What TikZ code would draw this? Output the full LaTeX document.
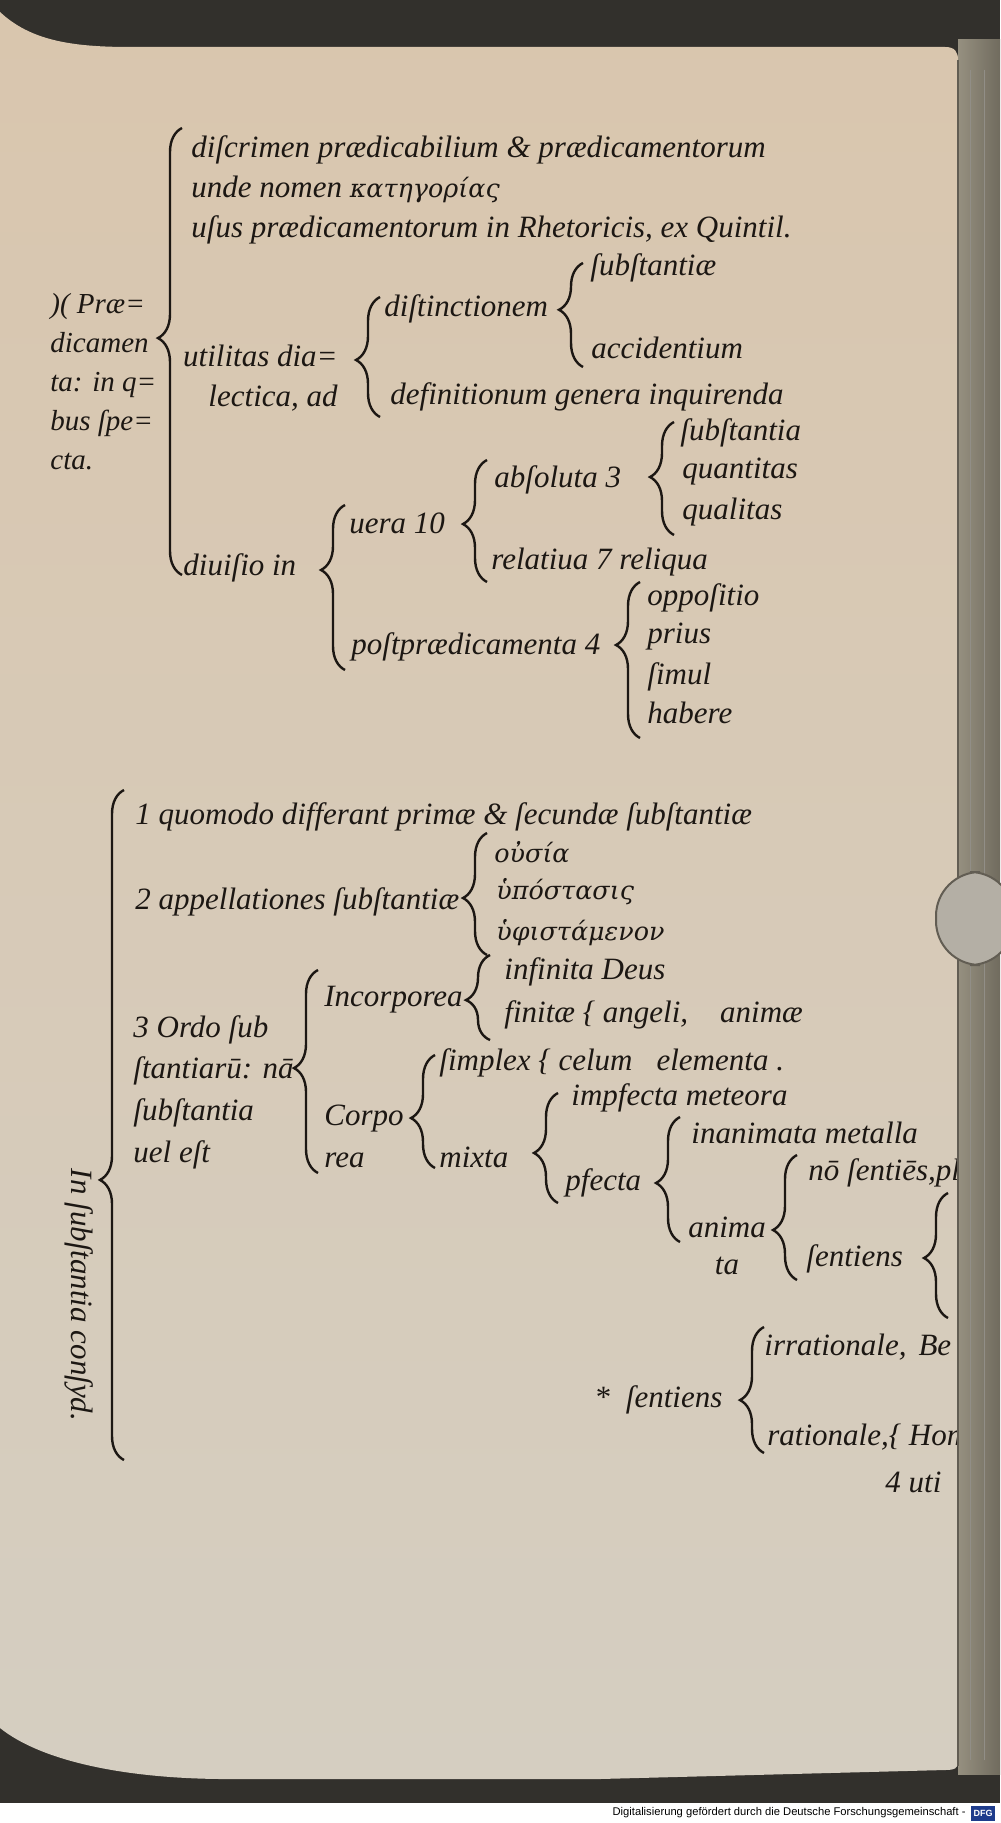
\documentclass[tikz,border=0pt]{standalone}
\usepackage{fontspec}
\setmainfont{Liberation Serif}
\newfontfamily\greekfont[Scale=0.82]{DejaVu Serif}
\newfontfamily\capfont{Liberation Sans}
\usetikzlibrary{decorations.pathreplacing}
\definecolor{ink}{RGB}{28,23,19}
\definecolor{frame}{RGB}{50,48,44}
\definecolor{papertop}{RGB}{217,198,174}
\definecolor{paperbot}{RGB}{213,206,193}
\definecolor{edgeA}{RGB}{150,144,128}
\definecolor{edgeB}{RGB}{112,107,94}
\definecolor{tabfill}{RGB}{180,175,165}
\definecolor{tabline}{RGB}{98,93,83}
\definecolor{dfgblue}{RGB}{30,60,140}

\begin{document}
\begin{tikzpicture}[x=0.5pt,y=-0.5pt]
\tikzset{txt/.style={anchor=west,inner sep=0pt,text=ink,font=\fontsize{15.5}{20}\selectfont\itshape}}
\tikzset{brc/.style={draw=ink,line width=1.2pt,decorate,decoration={brace,amplitude=12pt,aspect=#1}}}
\useasboundingbox (0,0) rectangle (1000,1823);
% scan border and page
\fill[frame] (0,0) rectangle (1000,1823);
\fill[white] (0,1803) rectangle (1000,1823);
\shade[top color=papertop,bottom color=paperbot] (0,12) .. controls (30,40) and (70,47) .. (130,47) -- (945,47)
  .. controls (955,47) and (958,52) .. (958,60) -- (958,1762) .. controls (958,1768) and (955,1770) .. (945,1770)
  -- (600,1779) -- (220,1779) .. controls (120,1778) and (40,1760) .. (0,1728) -- cycle;

% Praedicamenta
\node[txt,font=\fontsize{14.5}{19.5}\selectfont\itshape,align=left] (praed) at (50,382) {)( Præ=\\dicamen\\ta: in q=\\bus ſpe=\\cta.};
\node[txt] (discr) at (191,150) {diſcrimen prædicabilium \& prædicamentorum};
\node[txt] (unde) at (191,189) {unde nomen {\greekfont κατηγορίας}};
\node[txt] (usus) at (191,230) {uſus prædicamentorum in Rhetoricis, ex Quintil.};
\node[txt,anchor=east,align=right] (util) at (338,378) {utilitas dia=\\lectica, ad};
\node[txt] (dist) at (384,309) {diſtinctionem};
\node[txt] (subst) at (590,268) {ſubſtantiæ};
\node[txt] (accid) at (591,348) {accidentium};
\node[txt] (defin) at (390,397) {definitionum genera inquirenda};
\node[txt] (diuis) at (183,568) {diuiſio in};
\node[txt] (uera) at (349,523) {uera 10};
\node[txt] (absol) at (494,480) {abſoluta 3};
\node[txt] (substa) at (680,433) {ſubſtantia};
\node[txt] (quant) at (682,472) {quantitas};
\node[txt] (qual) at (682,512) {qualitas};
\node[txt] (relat) at (491,562) {relatiua 7 reliqua};
\node[txt] (post) at (351,647) {poſtprædicamenta 4};
\node[txt] (oppos) at (647,598) {oppoſitio};
\node[txt] (prius) at (647,637) {prius};
\node[txt] (simul) at (647,677) {ſimul};
\node[txt] (habere) at (647,713) {habere};

\coordinate (predT) at (182,128);  \coordinate (predB) at (182,575);
\coordinate (utilT) at (380,297);  \coordinate (utilB) at (380,417);
\coordinate (distT) at (583,263);  \coordinate (distB) at (583,367);
\coordinate (diuT) at (345,505);   \coordinate (diuB) at (345,670);
\coordinate (ueraT) at (487,460);  \coordinate (ueraB) at (487,582);
\coordinate (absT) at (674,422);   \coordinate (absB) at (674,535);
\coordinate (postT) at (640,582);  \coordinate (postB) at (640,738);
\draw[brc=.53] (predB) -- (predT);
\draw[brc=.475] (utilB) -- (utilT);
\draw[brc=.55] (distB) -- (distT);
\draw[brc=.606] (diuB) -- (diuT);
\draw[brc=.475] (ueraB) -- (ueraT);
\draw[brc=.513] (absB) -- (absT);
\draw[brc=.596] (postB) -- (postT);

% In substantia
\node[txt,anchor=center,rotate=-90] (consyd) at (79,1295) {In ſubſtantia conſyd.};
\node[txt] (quomodo) at (135,817) {1 quomodo differant primæ \& ſecundæ ſubſtantiæ};
\node[txt] (appell) at (135,902) {2 appellationes ſubſtantiæ};
\node[txt] (usia) at (494,852) {{\greekfont οὐσία}};
\node[txt] (hypost) at (496,892) {{\greekfont ὑπόστασις}};
\node[txt] (hyphist) at (496,933) {{\greekfont ὑφιστάμενον}};
\node[txt] (infin) at (504,972) {infinita Deus};
\node[txt] (incorp) at (324,1000) {Incorporea};
\node[txt] (finit) at (504,1015) {finitæ \{ angeli,\hspace{16pt}animæ};
\node[txt,font=\fontsize{15.5}{20.8}\selectfont\itshape,align=left] (ordo) at (133,1092) {3 Ordo ſub\\ſtantiarū: nā\\ſubſtantia\\uel eſt};
\node[txt,font=\fontsize{15.5}{21}\selectfont\itshape,align=left] (corpo) at (324,1136) {Corpo\\rea};
\node[txt] (simpl) at (439,1063) {ſimplex \{ celum\hspace{12pt}elementa .};
\node[txt] (imperf) at (571,1098) {impfecta meteora};
\node[txt] (mixta) at (439,1157) {mixta};
\node[txt] (perf) at (565,1183) {pfecta};
\node[txt] (inanim) at (691,1133) {inanimata metalla};
\node[txt,anchor=center,align=center,font=\fontsize{15.5}{18.5}\selectfont\itshape] (anim) at (727,1246) {anima\\ta};
\node[txt] (nonsent) at (808,1173) {nō ſentiēs,pl};
\node[txt] (sent) at (806,1259) {ſentiens};
\node[txt] (sentii) at (594,1400) {*\hspace{8pt}ſentiens};
\node[txt] (irrat) at (764,1347) {irrationale,\hspace{6pt}Be};
\node[txt] (rat) at (767,1437) {rationale,\{ Hom};
\node[txt] (uti) at (885,1482) {4 uti};

\coordinate (substT) at (124,790);  \coordinate (substB) at (124,1460);
\coordinate (appT) at (487,833);    \coordinate (appB) at (487,955);
\coordinate (incT) at (490,955);    \coordinate (incB) at (490,1040);
\coordinate (ordoT) at (318,970);   \coordinate (ordoB) at (318,1173);
\coordinate (corpT) at (435,1055);  \coordinate (corpB) at (435,1168);
\coordinate (mixT) at (558,1093);   \coordinate (mixB) at (558,1203);
\coordinate (pfT) at (680,1117);    \coordinate (pfB) at (680,1242);
\coordinate (animT) at (797,1155);  \coordinate (animB) at (797,1280);
\coordinate (sentT) at (948,1193);  \coordinate (sentB) at (948,1318);
\coordinate (sentiiT) at (764,1327); \coordinate (sentiiB) at (764,1453);
\draw[brc=.418] (substB) -- (substT);
\draw[brc=.467] (appB) -- (appT);
\draw[brc=.47] (incB) -- (incT);
\draw[brc=.517] (ordoB) -- (ordoT);
\draw[brc=.442] (corpB) -- (corpT);
\draw[brc=.455] (mixB) -- (mixT);
\draw[brc=.472] (pfB) -- (pfT);
\draw[brc=.4] (animB) -- (animT);
\draw[brc=.48] (sentB) -- (sentT);
\draw[brc=.42] (sentiiB) -- (sentiiT);

% book edge and tab
\shade[left color=edgeA,right color=edgeB] (958,40) rectangle (1000,1774);
\draw[tabline,line width=1pt] (958,60) -- (958,1766);
\draw[tabline!70,line width=.4pt] (970,70) -- (970,1760);
\draw[tabline!70,line width=.4pt] (984,70) -- (984,1760);
\filldraw[fill=tabfill,draw=tabline,line width=1pt,rounded corners=22pt] (936,872) rectangle (1014,965);

% caption
\node[anchor=east,inner sep=0pt,font=\capfont\fontsize{5.6}{6.5}\selectfont] (dfgcap) at (966,1813) {Digitalisierung gefördert durch die Deutsche Forschungsgemeinschaft -};
\node[fill=dfgblue,text=white,inner sep=0pt,minimum width=12pt,minimum height=7.5pt,font=\capfont\bfseries\fontsize{4.5}{5}\selectfont] (dfglogo) at (983,1813) {DFG};
\end{tikzpicture}
\end{document}
